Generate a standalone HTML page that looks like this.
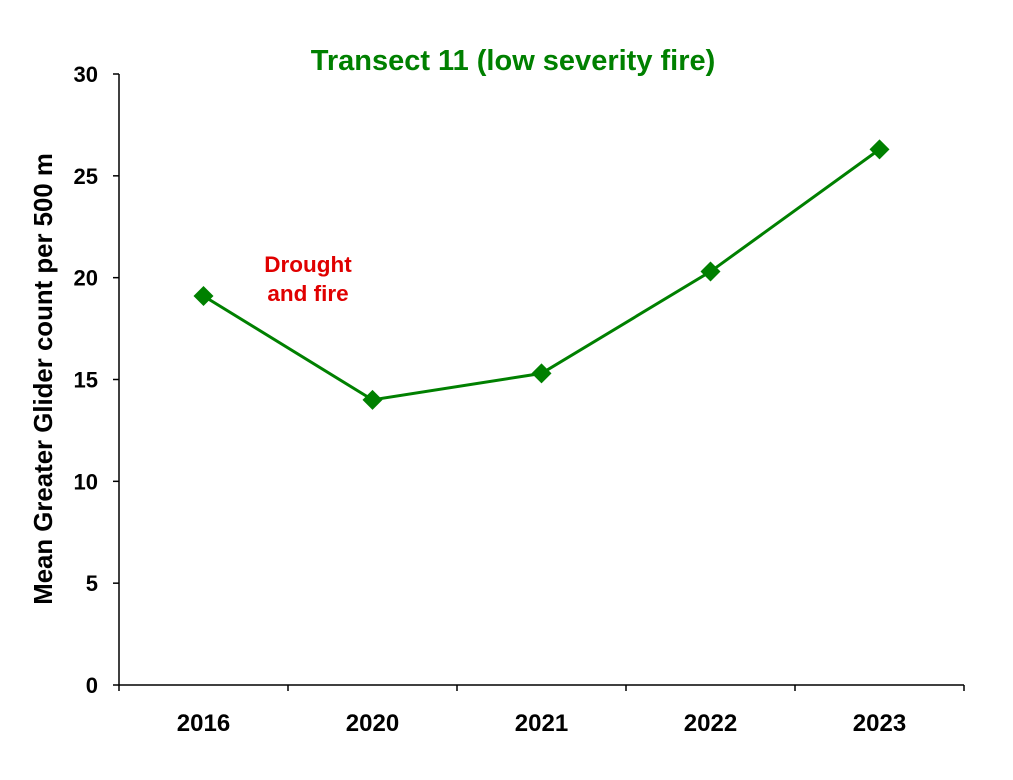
<!DOCTYPE html>
<html><head><meta charset="utf-8"><style>
body{margin:0;background:#fff}
svg text{font-family:"Liberation Sans",Arial,sans-serif;font-weight:bold}
</style></head><body>
<svg id="c" width="1013" height="775"></svg>
<script>
const categories=["2016","2020","2021","2022","2023"];
const values=[19.1,14.0,15.3,20.3,26.3];
const yTicks=[0,5,10,15,20,25,30];
const NS="http://www.w3.org/2000/svg";
const svg=document.getElementById('c');
const x0=119,x1=964,yTop=74,yBot=685,yMax=30;
const bw=(x1-x0)/categories.length;
const xs=i=>x0+bw*(i+0.5);
const ys=v=>yBot-(yBot-yTop)*v/yMax;
function mk(t,a,txt){const e=document.createElementNS(NS,t);for(const k in a)e.setAttribute(k,a[k]);if(txt!==undefined)e.textContent=txt;svg.appendChild(e);return e;}
let e;
e=mk('text',{x:513,y:70,'text-anchor':'middle','font-size':29,fill:'#008000'},'Transect 11 (low severity fire)');


e=mk('line',{x1:x0,y1:yTop,x2:x0,y2:yBot,stroke:'#000','stroke-width':1.5});


e=mk('line',{x1:x0,y1:yBot,x2:x1,y2:yBot,stroke:'#000','stroke-width':1.5});


yTicks.forEach(v=>{
 e=mk('line',{x1:x0-6,y1:ys(v),x2:x0,y2:ys(v),stroke:'#000','stroke-width':1.5});
 
 
 e=mk('text',{x:98,y:ys(v)+8,'text-anchor':'end','font-size':22,fill:'#000'},v);
 
 
});
for(let i=0;i<=categories.length;i++){
 e=mk('line',{x1:x0+bw*i,y1:yBot,x2:x0+bw*i,y2:yBot+6,stroke:'#000','stroke-width':1.5});
 
 
}
categories.forEach((c,i)=>{
 e=mk('text',{x:xs(i),y:731,'text-anchor':'middle','font-size':24,fill:'#000'},c);
 
 
});
e=mk('text',{x:0,y:0,transform:'translate(52,379) rotate(-90)','text-anchor':'middle','font-size':25.8,fill:'#000'},'Mean Greater Glider count per 500 m');


e=mk('polyline',{points:values.map((v,i)=>xs(i)+','+ys(v)).join(' '),fill:'none',stroke:'#008000','stroke-width':3});


values.forEach((v,i)=>{
 const x=xs(i),y=ys(v),r=10;
 e=mk('polygon',{points:`${x},${y-r} ${x+r},${y} ${x},${y+r} ${x-r},${y}`,fill:'#008000'});
 
 
});
e=mk('text',{x:308,y:272,'text-anchor':'middle','font-size':22.5,fill:'#e00000'},'Drought');


e=mk('text',{x:308,y:301,'text-anchor':'middle','font-size':22.5,fill:'#e00000'},'and fire');


</script>
</body></html>
